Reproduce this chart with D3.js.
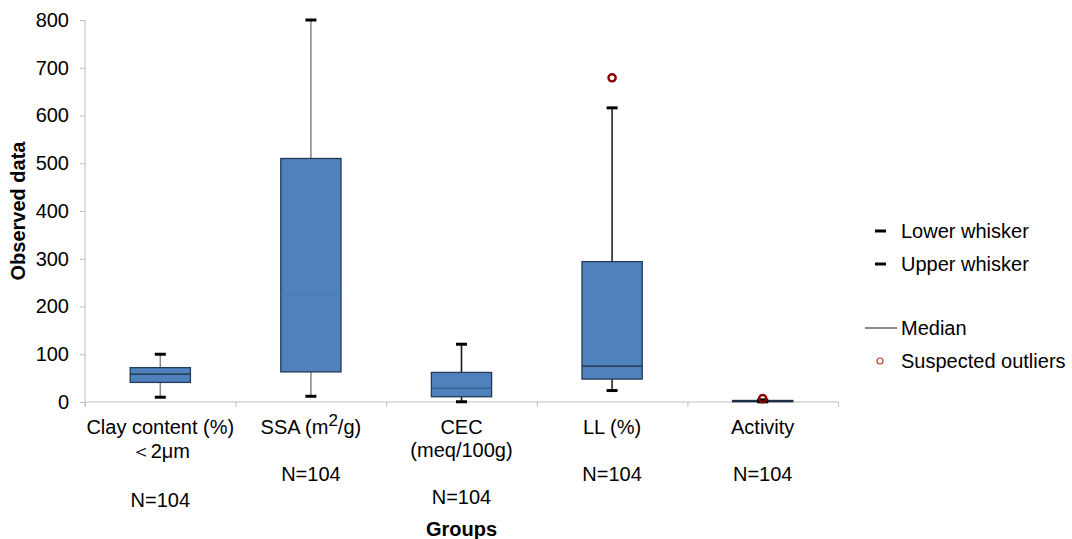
<!DOCTYPE html>
<html>
<head>
<meta charset="utf-8">
<script src="https://cdn.jsdelivr.net/npm/d3@7/dist/d3.min.js"></script>
<style>
  html, body { margin: 0; padding: 0; background: #ffffff; }
  svg { display: block; font-family: "Liberation Sans", Arial, sans-serif; }
</style>
</head>
<body>
<svg id="chart" width="1072" height="539"></svg>
<script>
// Summary statistics per soil property (N = 104 samples each)
const categories = ["clay", "ssa", "cec", "ll", "activity"];
const categoryLines = [
  ["Clay content (%)", "＜2μm", "", "N=104"],
  ["SSA (m{2}/g)", "", "N=104"],
  ["CEC", "(meq/100g)", "", "N=104"],
  ["LL (%)", "", "N=104"],
  ["Activity", "", "N=104"]
];
const lowerWhisker = [10, 12, 0.5, 24, 0.3];
const q1 = [41, 63, 11, 48, 0.6];
const median = [58.5, 226, 28.5, 75, 1.2];
const q3 = [72, 510, 62, 294, 3.2];
const upperWhisker = [100, 800, 121, 616, 4.5];
const outliers = [[], [], [], [679], [7]];
const yTicks = [0, 100, 200, 300, 400, 500, 600, 700, 800];

// Per-box line colours
const whiskerColor = ["#8c8c8c", "#8c8c8c", "#1a1a1a", "#262626", "#1a1a1a"];
const medianColor = ["#1e2a3a", "#4a78b2", "#3a5f8e", "#1e2a3a", "#1e2a3a"];

const svg = d3.select("#chart");
const plotLeft = 85, plotRight = 838, plotTop = 20, plotBottom = 402;

const x = d3.scaleBand().domain(categories).range([plotLeft, plotRight]).padding(0);
const y = d3.scaleLinear().domain([0, 800]).range([plotBottom, plotTop]);

const rows = categories.map((c, i) => ({
  key: c, i,
  lo: lowerWhisker[i], q1: q1[i], med: median[i], q3: q3[i], hi: upperWhisker[i],
  out: outliers[i]
}));

// Y axis
const yAxis = svg.append("g")
  .attr("transform", `translate(${plotLeft},0)`)
  .call(d3.axisLeft(y).tickValues(yTicks).tickSize(5).tickPadding(11).tickFormat(d3.format("d")));
yAxis.select(".domain").attr("stroke", "#bfbfbf").attr("d", `M0,${plotTop}V${plotBottom + 5}`);
yAxis.selectAll(".tick line").attr("stroke", "#bfbfbf");
yAxis.selectAll(".tick text")
  .attr("fill", "#000").style("font-size", "20px")
  .style("font-family", "'Liberation Sans', Arial, sans-serif");

// X axis with ticks on category boundaries
const bounds = d3.scaleLinear().domain([0, categories.length]).range([plotLeft, plotRight]);
const xAxis = svg.append("g")
  .attr("transform", `translate(0,${plotBottom})`)
  .call(d3.axisBottom(bounds).tickValues(d3.range(categories.length + 1)).tickSize(5).tickFormat(""));
xAxis.select(".domain").attr("stroke", "#bfbfbf").attr("d", `M${plotLeft},0H${plotRight}`);
xAxis.selectAll(".tick line").attr("stroke", "#bfbfbf");

// Category labels
const labelG = svg.append("g").style("font-size", "20px").attr("fill", "#000");
categoryLines.forEach((lines, i) => {
  const cx = x(categories[i]) + x.bandwidth() / 2;
  const lh = i === 0 ? 24.4 : 23.3;
  lines.forEach((ln, j) => {
    const yy = 434 + j * lh;
    if (ln.includes("{")) {
      const m = ln.match(/^(.*)\{(.*)\}(.*)$/);
      const row = labelG.append("text").attr("text-anchor", "middle").attr("x", cx).attr("y", yy);
      row.append("tspan").text(m[1]);
      row.append("tspan").attr("dy", -8).style("font-size", "17px").text(m[2]);
      row.append("tspan").attr("dy", 8).text(m[3]);
    } else if (ln) {
      labelG.append("text").attr("text-anchor", "middle").attr("x", cx).attr("y", yy).text(ln);
    }
  });
});

// Axis titles
svg.append("text")
  .attr("transform", `translate(25,${(plotTop + plotBottom) / 2}) rotate(-90)`)
  .attr("text-anchor", "middle")
  .style("font-size", "20px").style("font-weight", "bold")
  .text("Observed data");
svg.append("text")
  .attr("x", (plotLeft + plotRight) / 2).attr("y", 536)
  .attr("text-anchor", "middle")
  .style("font-size", "20px").style("font-weight", "bold")
  .text("Groups");

// Boxes
const boxW = x.bandwidth() * 0.4;
const capW = 11;
const boxes = svg.append("g").selectAll("g").data(rows).join("g")
  .attr("transform", d => `translate(${x(d.key) + x.bandwidth() / 2},0)`);

boxes.append("line")
  .attr("x1", 0).attr("x2", 0)
  .attr("y1", d => y(d.hi)).attr("y2", d => y(d.lo))
  .attr("stroke", d => whiskerColor[d.i]).attr("stroke-width", 1.6);

boxes.append("rect")
  .attr("x", -boxW / 2).attr("width", boxW)
  .attr("y", d => y(d.q3)).attr("height", d => Math.max(0.5, y(d.q1) - y(d.q3)))
  .attr("fill", "#4f81bd").attr("stroke", "#243a57").attr("stroke-width", 1.3);

boxes.append("line")
  .attr("x1", -boxW / 2).attr("x2", boxW / 2)
  .attr("y1", d => y(d.med)).attr("y2", d => y(d.med))
  .attr("stroke", d => medianColor[d.i]).attr("stroke-width", 1.3);

["lo", "hi"].forEach(k => {
  boxes.append("line")
    .attr("x1", -capW / 2).attr("x2", capW / 2)
    .attr("y1", d => y(d[k])).attr("y2", d => y(d[k]))
    .attr("stroke", "#000").attr("stroke-width", 3);
});

boxes.selectAll("circle").data(d => d.out).join("circle")
  .attr("cx", 0).attr("cy", v => y(v)).attr("r", 3.6)
  .attr("fill", "none").attr("stroke", "#8b0000").attr("stroke-width", 2.4);

// Legend
const lg = svg.append("g").style("font-size", "20px");
const legendItems = [
  { label: "Lower whisker", type: "cap", y: 231 },
  { label: "Upper whisker", type: "cap", y: 264 },
  { label: "Median", type: "line", y: 328 },
  { label: "Suspected outliers", type: "dot", y: 361 }
];
legendItems.forEach(it => {
  if (it.type === "cap") {
    lg.append("line").attr("x1", 875).attr("x2", 886).attr("y1", it.y).attr("y2", it.y)
      .attr("stroke", "#000").attr("stroke-width", 3);
  } else if (it.type === "line") {
    lg.append("line").attr("x1", 865).attr("x2", 897).attr("y1", it.y).attr("y2", it.y)
      .attr("stroke", "#404040").attr("stroke-width", 1.2);
  } else {
    lg.append("circle").attr("cx", 880).attr("cy", it.y).attr("r", 3)
      .attr("fill", "none").attr("stroke", "#c0392b").attr("stroke-width", 1.2);
  }
  lg.append("text").attr("x", 901).attr("y", it.y + 7).text(it.label);
});
</script>
</body>
</html>
